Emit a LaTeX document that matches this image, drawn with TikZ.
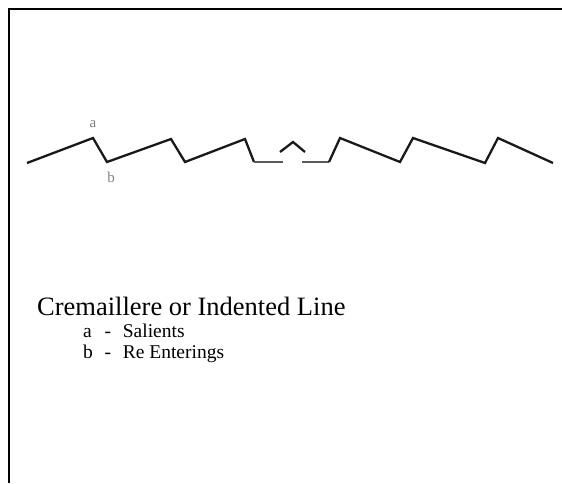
\documentclass[tikz,border=0pt]{standalone}
\usepackage{fontspec}
\setmainfont{Liberation Serif}
\usetikzlibrary{positioning}

\begin{document}
\begin{tikzpicture}[
    x=1pt, y=-1pt,
    frame/.style={line width=1.6pt, black},
    zig/.style={line width=2.3pt, black!90, line join=miter},
    flat/.style={line width=2.8pt, black!65},
    ptlabel/.style={font=\fontsize{15}{16}\selectfont, text=black!50, inner sep=0pt},
    title/.style={font=\fontsize{26.5}{28}\selectfont, anchor=base west, inner sep=0pt},
    legend/.style={font=\fontsize{19.5}{22}\selectfont, anchor=base west, inner sep=0pt},
]
    \useasboundingbox (0,0) rectangle (562,483);
    \draw[frame] (9,483) -- (9,9) -- (562,9);

    \coordinate (a) at (93,138);
    \coordinate (b) at (107,162);
    \draw[zig] (27,163) -- (a) -- (b) -- (171,139) -- (185,162) -- (245,139) -- (254,162);
    \draw[flat] (254,162) -- (283,162);
    \draw[zig] (280,152) -- (293,142) -- (305,152);
    \draw[flat] (302,162) -- (329,162);
    \draw[zig] (329,162) -- (340,138) -- (400,162) -- (413,138) -- (485,163)
        -- (498,138) -- (553,163);

    \node[ptlabel, above=10pt of a] (la) {a};
    \node[ptlabel, below=10pt of b, xshift=4pt] (lb) {b};

    \node[title] (name) at (37,315) {Cremaillere or Indented Line};
    \node[legend] (sal) at (83,337) {\makebox[0.5em][l]{a}\hspace{0.6em}-\hspace{0.6em}Salients};
    \node[legend] (ree) at (83,358) {\makebox[0.5em][l]{b}\hspace{0.6em}-\hspace{0.6em}Re Enterings};
\end{tikzpicture}
\end{document}
